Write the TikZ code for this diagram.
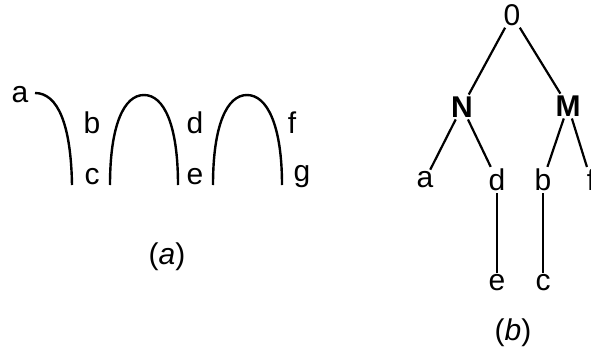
\documentclass[tikz,border=0pt]{standalone}
\usepackage{fontspec}
\setmainfont{Liberation Sans}
\usepackage{tikz}
\tikzset{
  lbl/.style={font=\fontsize{30}{32}\selectfont,inner sep=1pt},
  bl/.style={lbl,font=\fontsize{30}{32}\selectfont\bfseries},
  ed/.style={line width=2.2pt,black,shorten <=1pt,shorten >=1pt},
  arc/.style={line width=2.4pt,black}
}
\begin{document}
\begin{tikzpicture}[x=1pt,y=-1pt]
\useasboundingbox (0,0) rectangle (591,353);
% (a) the arcs
\draw[arc] (35,93) .. controls (58,93) and (71,125) .. (72,185);
\draw[arc] (110,185) .. controls (110,125) and (124,95) .. (144,95) .. controls (164,95) and (178,125) .. (178,185);
\draw[arc] (213,185) .. controls (213,125) and (227,95) .. (247,95) .. controls (267,95) and (282,125) .. (282,185);
\node[lbl] (la) at (20,95) {a};
\node[lbl] (lb) at (92,123) {b};
\node[lbl] (lc) at (92,177) {c};
\node[lbl] (ld) at (195,123) {d};
\node[lbl] (le) at (195,177) {e};
\node[lbl] (lf) at (292,123) {f};
\node[lbl] (lg) at (302,177) {g};
\node[lbl] (capa) at (167,257) {(\textit{a})};
% (b) the tree
\node[lbl] (root) at (512,15) {0};
\node[bl] (n) at (462,107) {N};
\node[bl] (m) at (568,106) {M};
\node[lbl] (ta) at (425,180) {a};
\node[lbl] (td) at (497,180) {d};
\node[lbl] (tb) at (543,180) {b};
\node[lbl] (tf) at (591,180) {f};
\node[lbl] (te) at (497,283) {e};
\node[lbl] (tc) at (543,283) {c};
\node[lbl] (capb) at (513,333) {(\textit{b})};
\draw[ed] (root) -- (n);
\draw[ed] (root) -- (m);
\draw[ed] (n) -- (ta);
\draw[ed] (n) -- (td);
\draw[ed] (m) -- (tb);
\draw[ed] (m) -- (tf);
\draw[ed] (td) -- (te);
\draw[ed] (tb) -- (tc);
\end{tikzpicture}
\end{document}
